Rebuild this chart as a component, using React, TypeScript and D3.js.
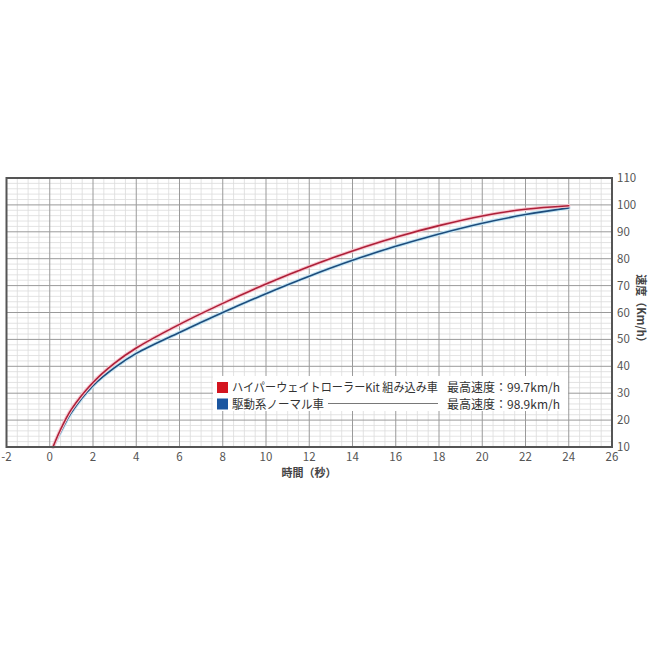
import React, { useEffect, useRef } from 'react';
import * as d3 from 'd3';

// time (s) vs speed (km/h)
const times = [0.15, 0.5, 1, 2, 3, 4, 6, 8, 10, 12, 14, 16, 18, 20, 22, 24];
const hyperSpeeds = [10, 16.5, 24, 34, 41.2, 46.8, 55.6, 63.4, 70.6, 77.1, 82.9, 88.0, 92.3, 95.9, 98.4, 99.7];
const normalSpeeds = [10, 15.5, 22.8, 32.8, 39.5, 44.8, 52.6, 60.0, 67.0, 73.5, 79.4, 84.6, 89.2, 93.2, 96.4, 98.9];

const xTicks = [-2, 0, 2, 4, 6, 8, 10, 12, 14, 16, 18, 20, 22, 24, 26];
const yTicks = [10, 20, 30, 40, 50, 60, 70, 80, 90, 100, 110];

const seriesNames = ['ハイパーウェイトローラーKit 組み込み車', '駆動系ノーマル車'];
const maxLabels = ['最高速度：99.7km/h', '最高速度：98.9km/h'];
const seriesColors = ['#d3141f', '#1b56a0'];
const lineColors = ['#ad2038', '#1d4c7c'];
const haloColors = ['#f8c6d0', '#c2e4f3'];

const FONT = '"Noto Sans CJK JP", "Noto Sans", sans-serif';

export default function App() {
  const ref = useRef<SVGSVGElement | null>(null);

  useEffect(() => {
    if (!ref.current) return;
    const svg = d3.select(ref.current);
    svg.selectAll('*').remove();

    const x = d3.scaleLinear().domain([-2, 26]).range([6.5, 612]);
    const y = d3.scaleLinear().domain([10, 110]).range([447, 178]);

    const g = svg.append('g');

    g.append('rect')
      .attr('x', x(-2)).attr('y', y(110))
      .attr('width', x(26) - x(-2)).attr('height', y(10) - y(110))
      .attr('fill', '#fff');

    // minor grid
    const minorX = d3.range(-2, 26.01, 0.5).filter(v => Math.abs(v % 2) > 0.01);
    const minorY = d3.range(10, 110.01, 2).filter(v => v % 10 !== 0);
    g.selectAll('.mx').data(minorX).join('line')
      .attr('x1', d => x(d)).attr('x2', d => x(d))
      .attr('y1', y(110)).attr('y2', y(10))
      .attr('stroke', '#dcdcdc').attr('stroke-width', 0.8);
    g.selectAll('.my').data(minorY).join('line')
      .attr('x1', x(-2)).attr('x2', x(26))
      .attr('y1', d => y(d)).attr('y2', d => y(d))
      .attr('stroke', '#dcdcdc').attr('stroke-width', 0.8);

    // major grid
    g.selectAll('.gx').data(xTicks).join('line')
      .attr('x1', d => x(d)).attr('x2', d => x(d))
      .attr('y1', y(110)).attr('y2', y(10))
      .attr('stroke', '#9a9a9a').attr('stroke-width', 1);
    g.selectAll('.gy').data(yTicks).join('line')
      .attr('x1', x(-2)).attr('x2', x(26))
      .attr('y1', d => y(d)).attr('y2', d => y(d))
      .attr('stroke', '#9a9a9a').attr('stroke-width', 1);

    // legend box sits on top of the grid
    g.append('rect')
      .attr('x', 213).attr('y', 376).attr('width', 355).attr('height', 35)
      .attr('fill', '#fff');

    const line = (vals: number[]) =>
      d3.line<number>()
        .x((_, i) => x(times[i]))
        .y(d => y(d))
        .curve(d3.curveCatmullRom.alpha(0.5))(vals);

    [normalSpeeds, hyperSpeeds].forEach((vals, k) => {
      const idx = k === 0 ? 1 : 0;
      g.append('path').attr('d', line(vals)!)
        .attr('fill', 'none').attr('stroke', haloColors[idx]).attr('stroke-width', 3.6)
        .attr('stroke-linecap', 'round');
      g.append('path').attr('d', line(vals)!)
        .attr('fill', 'none').attr('stroke', lineColors[idx]).attr('stroke-width', 1.6)
        .attr('stroke-linecap', 'round');
    });

    // frame
    g.append('rect')
      .attr('x', x(-2)).attr('y', y(110))
      .attr('width', x(26) - x(-2)).attr('height', y(10) - y(110))
      .attr('fill', 'none').attr('stroke', '#555').attr('stroke-width', 2);

    // tick labels
    g.selectAll('.xt').data(xTicks).join('text')
      .attr('x', d => x(d)).attr('y', 461)
      .attr('text-anchor', 'middle')
      .attr('font-family', FONT).attr('font-size', 11.5).attr('fill', '#555')
      .text(d => String(d));
    g.selectAll('.yt').data(yTicks).join('text')
      .attr('x', 617).attr('y', d => y(d) + 4)
      .attr('font-family', FONT).attr('font-size', 11.5).attr('fill', '#555')
      .text(d => String(d));

    g.append('text')
      .attr('x', 309).attr('y', 477).attr('text-anchor', 'middle')
      .attr('font-family', FONT).attr('font-size', 11).attr('font-weight', 'bold').attr('fill', '#444')
      .text('時間（秒）');
    g.append('text')
      .attr('transform', 'translate(637,311) rotate(90)').attr('text-anchor', 'middle')
      .attr('font-family', FONT).attr('font-size', 11).attr('font-weight', 'bold').attr('fill', '#444')
      .text('速度（Km/h）');

    // legend rows
    const rowY = [387.5, 404];
    seriesNames.forEach((name, i) => {
      g.append('rect')
        .attr('x', 217).attr('y', rowY[i] - 5.5).attr('width', 11).attr('height', 11)
        .attr('fill', seriesColors[i]);
      const t = g.append('text')
        .attr('x', 232).attr('y', rowY[i] + 4.5)
        .attr('font-family', FONT).attr('font-size', 12).attr('fill', '#333')
        .text(name);
      if (i === 0) t.attr('textLength', 206).attr('lengthAdjust', 'spacingAndGlyphs');
      else t.attr('textLength', 92).attr('lengthAdjust', 'spacingAndGlyphs');
      g.append('text')
        .attr('x', 447).attr('y', rowY[i] + 4.5)
        .attr('font-family', FONT).attr('font-size', 12).attr('fill', '#333')
        .attr('textLength', 113).attr('lengthAdjust', 'spacingAndGlyphs')
        .text(maxLabels[i]);
    });
    g.append('line')
      .attr('x1', 328).attr('x2', 438).attr('y1', rowY[1] - 0.5).attr('y2', rowY[1] - 0.5)
      .attr('stroke', '#555').attr('stroke-width', 0.8);
  }, []);

  return (
    <svg ref={ref} width={650} height={650}
      style={{ position: 'absolute', left: 0, top: 0, background: '#fff' }} />
  );
}
